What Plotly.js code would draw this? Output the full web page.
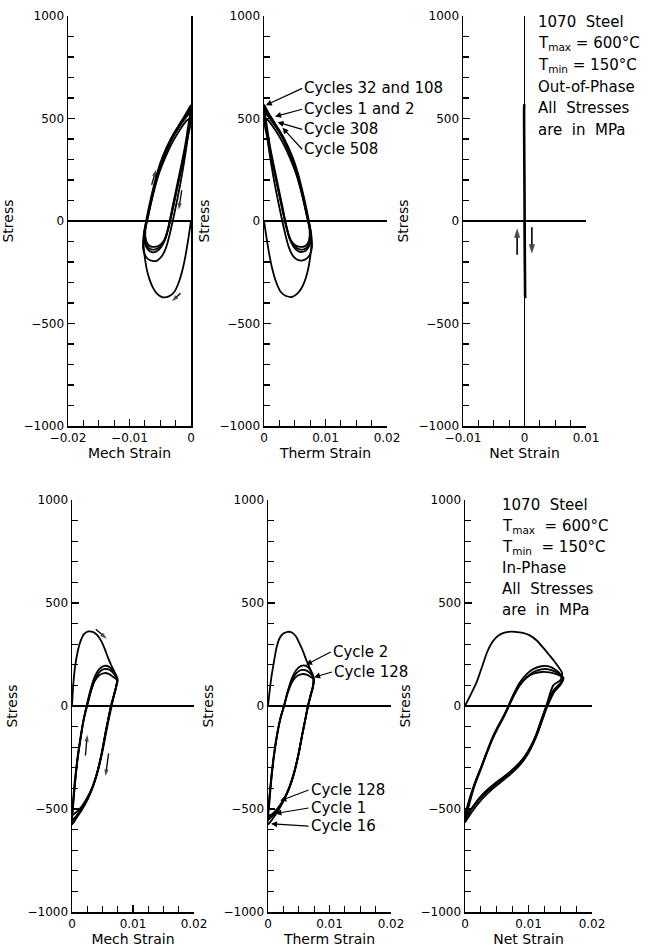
<!DOCTYPE html>
<html><head><meta charset="utf-8">
<script src="https://cdn.plot.ly/plotly-3.0.1.min.js"></script>
<style>html,body{margin:0;padding:0;background:#fff}#chart{width:655px;height:947px}</style>
</head><body><div id="chart"></div>
<script>
// ---------- DATA ----------
// Out-of-phase, mechanical strain vs stress (MPa)
const opMech_c1_x = [0,-0.0004,-0.0009,-0.0014,-0.0020,-0.0027,-0.0036,-0.0046,-0.0055,-0.0062,-0.0068,-0.0072,-0.0075,-0.0077,-0.0076,-0.0072,-0.0068,-0.0062,-0.0055,-0.0045,-0.0032,-0.0019,-0.0006,0];
const opMech_c1_y = [0,-80,-170,-240,-300,-345,-368,-372,-355,-325,-280,-235,-180,-120,-60,0,60,140,225,315,400,462,518,548];
const opMech_c2_x = [0,-0.0004,-0.0009,-0.0015,-0.0022,-0.0029,-0.0035,-0.0040,-0.0047,-0.0055,-0.0063,-0.0070,-0.0075,-0.0078,-0.0077,-0.0073,-0.0069,-0.0063,-0.0056,-0.0046,-0.0033,-0.0020,-0.0007,0];
const opMech_c2_y = [548,440,330,220,110,10,-70,-125,-170,-193,-195,-185,-165,-130,-70,0,60,140,225,315,400,465,522,555];
const opMech_c32_x = [0,-0.0005,-0.0010,-0.0016,-0.0023,-0.0030,-0.0036,-0.0041,-0.0048,-0.0056,-0.0064,-0.0070,-0.0075,-0.0076,-0.0074,-0.0070,-0.0065,-0.0058,-0.0050,-0.0040,-0.0029,-0.0017,-0.0006,0];
const opMech_c32_y = [565,455,360,270,170,70,-20,-80,-125,-148,-152,-140,-110,-60,-20,20,90,180,265,345,420,480,535,565];
const opMech_c308_x = [0,-0.0005,-0.0011,-0.0017,-0.0024,-0.0031,-0.0037,-0.0043,-0.0050,-0.0058,-0.0065,-0.0071,-0.0075,-0.0075,-0.0072,-0.0067,-0.0060,-0.0052,-0.0042,-0.0031,-0.0019,-0.0007,0];
const opMech_c308_y = [530,430,330,240,140,40,-40,-95,-125,-138,-138,-125,-95,-50,0,70,160,245,325,400,460,510,530];
const opMech_c508_x = [0,-0.0005,-0.0011,-0.0018,-0.0025,-0.0032,-0.0038,-0.0044,-0.0051,-0.0059,-0.0066,-0.0071,-0.0074,-0.0074,-0.0071,-0.0066,-0.0059,-0.0051,-0.0041,-0.0030,-0.0018,-0.0007,0];
const opMech_c508_y = [500,410,315,225,125,30,-45,-95,-118,-126,-124,-110,-80,-40,5,75,160,240,315,385,445,490,500];

// Out-of-phase, thermal strain vs stress
const opTherm_c1_x = [0,0.0004,0.0009,0.0014,0.0020,0.0027,0.0036,0.0046,0.0055,0.0062,0.0068,0.0072,0.0075,0.0077,0.0076,0.0072,0.0068,0.0062,0.0055,0.0045,0.0032,0.0019,0.0006,0];
const opTherm_c1_y = [0,-80,-170,-240,-300,-345,-366,-370,-352,-322,-278,-232,-178,-120,-60,0,60,140,225,315,400,462,518,548];
const opTherm_c2_x = [0,0.0004,0.0009,0.0015,0.0022,0.0029,0.0035,0.0040,0.0047,0.0055,0.0063,0.0070,0.0075,0.0078,0.0077,0.0073,0.0069,0.0063,0.0056,0.0046,0.0033,0.0020,0.0007,0];
const opTherm_c2_y = [548,440,330,220,110,10,-70,-125,-170,-190,-192,-182,-162,-128,-70,0,60,140,225,315,400,465,522,555];
const opTherm_c32_x = [0,0.0005,0.0010,0.0016,0.0023,0.0030,0.0036,0.0041,0.0048,0.0056,0.0064,0.0070,0.0075,0.0076,0.0074,0.0070,0.0065,0.0058,0.0050,0.0040,0.0029,0.0017,0.0006,0];
const opTherm_c32_y = [568,455,360,270,170,70,-20,-80,-125,-148,-150,-138,-108,-60,-20,20,90,180,265,345,420,480,535,568];
const opTherm_c308_x = [0,0.0005,0.0011,0.0017,0.0024,0.0031,0.0037,0.0043,0.0050,0.0058,0.0065,0.0071,0.0075,0.0075,0.0072,0.0067,0.0060,0.0052,0.0042,0.0031,0.0019,0.0007,0];
const opTherm_c308_y = [530,430,330,240,140,40,-40,-95,-125,-138,-138,-125,-95,-50,0,70,160,245,325,400,460,510,530];
const opTherm_c508_x = [0,0.0005,0.0011,0.0018,0.0025,0.0032,0.0038,0.0044,0.0051,0.0059,0.0066,0.0071,0.0074,0.0074,0.0071,0.0066,0.0059,0.0051,0.0041,0.0030,0.0018,0.0007,0];
const opTherm_c508_y = [500,410,315,225,125,30,-45,-95,-118,-126,-124,-110,-80,-40,5,75,160,240,315,385,445,490,500];

// Out-of-phase, net strain vs stress (practically zero strain)
const opNet_x = [0,0.00005,0.0001,0.00005,0,-0.00005,-0.00005,0];
const opNet_y = [0,-200,-370,-150,150,400,560,570];

// In-phase, mechanical strain vs stress
const ipMech_c1_x = [0,0.0002,0.0005,0.0009,0.0014,0.0020,0.0027,0.0034,0.0041,0.0048,0.0054,0.0059,0.0064,0.0069,0.0073,0.0075,0.0072,0.0068,0.0064,0.0060,0.0055,0.0049,0.0042,0.0034,0.0025,0.0015,0.0007,0];
const ipMech_c1_y = [0,100,190,260,315,350,362,360,345,315,275,235,200,170,145,125,90,45,0,-55,-130,-225,-315,-390,-450,-500,-535,-555];
const ipMech_c2_x = [0,0.0002,0.0005,0.0009,0.0014,0.0019,0.0024,0.0030,0.0037,0.0045,0.0053,0.0061,0.0068,0.0074,0.0072,0.0068,0.0064,0.0060,0.0055,0.0049,0.0042,0.0034,0.0025,0.0015,0.0007,0];
const ipMech_c2_y = [-555,-470,-370,-260,-160,-70,0,75,140,180,195,190,165,130,90,45,0,-55,-130,-225,-315,-390,-450,-500,-535,-560];
const ipMech_c16_x = [0,0.0002,0.0005,0.0009,0.0014,0.0019,0.0025,0.0031,0.0038,0.0046,0.0054,0.0062,0.0069,0.0074,0.0072,0.0068,0.0065,0.0061,0.0056,0.0050,0.0043,0.0035,0.0026,0.0016,0.0007,0];
const ipMech_c16_y = [-575,-480,-375,-262,-158,-68,0,70,130,168,180,175,155,128,88,42,0,-55,-128,-220,-310,-388,-452,-505,-545,-575];
const ipMech_c128_x = [0,0.0002,0.0005,0.0009,0.0014,0.0019,0.0024,0.0030,0.0037,0.0045,0.0053,0.0061,0.0068,0.0074,0.0072,0.0068,0.0064,0.0060,0.0055,0.0049,0.0042,0.0034,0.0025,0.0015,0.0007,0];
const ipMech_c128_y = [-530,-450,-350,-250,-150,-65,0,65,120,150,160,155,140,125,88,42,0,-55,-130,-225,-315,-390,-445,-490,-515,-530];

// In-phase, thermal strain vs stress
const ipTherm_c1_x = [0,0.0003,0.0006,0.0010,0.0014,0.0019,0.0025,0.0032,0.0038,0.0045,0.0051,0.0057,0.0062,0.0067,0.0071,0.0074,0.0073,0.0069,0.0065,0.0061,0.0056,0.0050,0.0043,0.0035,0.0026,0.0016,0.0007,0];
const ipTherm_c1_y = [0,80,150,220,285,330,352,360,358,340,305,265,225,190,160,135,95,50,0,-60,-135,-230,-320,-395,-455,-505,-535,-555];
const ipTherm_c2_x = [0,0.0002,0.0005,0.0009,0.0014,0.0020,0.0026,0.0032,0.0039,0.0046,0.0054,0.0062,0.0069,0.0074,0.0073,0.0069,0.0065,0.0061,0.0056,0.0050,0.0043,0.0035,0.0026,0.0016,0.0007,0];
const ipTherm_c2_y = [-530,-450,-355,-250,-150,-60,0,70,135,175,195,195,175,140,95,50,0,-60,-135,-230,-320,-395,-455,-505,-525,-530];
const ipTherm_c16_x = [0,0.0002,0.0005,0.0009,0.0014,0.0020,0.0026,0.0032,0.0039,0.0047,0.0055,0.0063,0.0070,0.0074,0.0073,0.0069,0.0065,0.0061,0.0056,0.0050,0.0043,0.0035,0.0026,0.0016,0.0007,0];
const ipTherm_c16_y = [-575,-480,-375,-262,-158,-65,0,68,125,162,175,172,155,135,92,46,0,-60,-132,-225,-315,-392,-455,-510,-550,-575];
const ipTherm_c128_x = [0,0.0002,0.0005,0.0009,0.0014,0.0020,0.0026,0.0032,0.0039,0.0047,0.0055,0.0063,0.0070,0.0075,0.0073,0.0069,0.0065,0.0061,0.0056,0.0050,0.0043,0.0035,0.0026,0.0016,0.0007,0];
const ipTherm_c128_y = [-545,-460,-360,-255,-152,-62,0,62,115,145,155,152,140,130,90,45,0,-60,-133,-228,-318,-392,-450,-495,-525,-545];

// In-phase, net strain vs stress
const ipNet_c1_x = [0,0.0009,0.0018,0.0024,0.0029,0.0034,0.0040,0.0048,0.0057,0.0068,0.0079,0.0091,0.0102,0.0113,0.0123,0.0132,0.0140,0.0147,0.0153,0.0150,0.0139,0.0128,0.0120,0.0112,0.0103,0.0093,0.0082,0.0070,0.0057,0.0044,0.0031,0.0019,0.0009,0];
const ipNet_c1_y = [0,55,113,165,210,255,295,330,350,360,360,355,343,318,283,250,220,190,160,125,100,0,-70,-140,-200,-250,-290,-325,-358,-390,-425,-465,-505,-550];
const ipNet_c2_x = [0,0.0008,0.0016,0.0026,0.0034,0.0042,0.0050,0.0058,0.0066,0.0076,0.0086,0.0097,0.0108,0.0120,0.0132,0.0143,0.0150,0.0154,0.0150,0.0139,0.0128,0.0120,0.0112,0.0103,0.0093,0.0082,0.0070,0.0057,0.0044,0.0031,0.0019,0.0009,0];
const ipNet_c2_y = [-550,-451,-370,-291,-225,-162,-110,-65,-15,55,113,155,180,193,192,175,155,137,110,75,0,-70,-140,-200,-250,-290,-325,-358,-390,-425,-465,-505,-560];
const ipNet_c16_x = [0,0.0008,0.0016,0.0026,0.0034,0.0042,0.0050,0.0058,0.0066,0.0076,0.0086,0.0097,0.0108,0.0120,0.0132,0.0143,0.0150,0.0154,0.0150,0.0140,0.0129,0.0121,0.0113,0.0104,0.0094,0.0083,0.0071,0.0058,0.0045,0.0032,0.0020,0.0010,0];
const ipNet_c16_y = [-560,-462,-380,-300,-233,-170,-118,-72,-22,45,100,140,165,178,178,165,150,137,108,72,0,-72,-143,-205,-257,-298,-333,-366,-398,-435,-476,-518,-565];
const ipNet_c128_x = [0,0.0008,0.0017,0.0027,0.0035,0.0043,0.0051,0.0059,0.0067,0.0077,0.0087,0.0098,0.0109,0.0121,0.0133,0.0144,0.0151,0.0155,0.0151,0.0141,0.0130,0.0122,0.0114,0.0105,0.0095,0.0084,0.0072,0.0059,0.0046,0.0033,0.0021,0.0011,0];
const ipNet_c128_y = [-535,-440,-362,-285,-220,-158,-106,-60,-12,52,105,140,158,165,163,155,145,137,105,70,0,-66,-134,-192,-242,-282,-316,-348,-378,-412,-452,-495,-535];

// Direction arrows: [panel, tail strain, tail stress, head strain, head stress]
const dirArrowsOP = [[1,-0.0064,176,-0.0057,250],[1,-0.0015,150,-0.0020,55],[1,-0.0017,-352,-0.0031,-392],
                     [3,-0.0012,-165,-0.0012,-35],[3,0.0012,-30,0.0012,-160]];
const dirArrowsIP = [[4,0.0039,372,0.0057,327],[4,0.0022,-240,0.0025,-140],[4,0.0060,-230,0.0055,-340]];

// Text
const cycleLabelsOP = ["Cycles 32 and 108","Cycles 1 and 2","Cycle 308","Cycle 508"];
const cycleLabelsIP = ["Cycle 2","Cycle 128","Cycle 128","Cycle 1","Cycle 16"];
const infoOP = ["1070  Steel","T<sub>max</sub> = 600°C","T<sub>min</sub> = 150°C","Out-of-Phase","All  Stresses","are  in  MPa"];
const infoIP = ["1070  Steel","T<sub>max</sub>  = 600°C","T<sub>min</sub>  = 150°C","In-Phase","All  Stresses","are  in  MPa"];
const xTitles = ["Mech Strain","Therm Strain","Net Strain","Mech Strain","Therm Strain","Net Strain"];
const yTitle = "Stress";

// ---------- LAYOUT ----------
const W = 655, H = 947;
const FONT = "DejaVu Sans, sans-serif";
function dx(a,b){return [a/W, b/W];}
function dy(top,bottom){return [1-bottom/H, 1-top/H];}
function sfx(n){return n===1?'':String(n);}

function lineTrace(x,y,n){
  return {x:x,y:y,xaxis:'x'+sfx(n),yaxis:'y'+sfx(n),mode:'lines',
    line:{color:'black',width:1.8,shape:'spline',smoothing:0.7},hoverinfo:'skip'};
}
const traces = [
  lineTrace(opMech_c1_x,opMech_c1_y,1), lineTrace(opMech_c2_x,opMech_c2_y,1),
  lineTrace(opMech_c32_x,opMech_c32_y,1), lineTrace(opMech_c308_x,opMech_c308_y,1),
  lineTrace(opMech_c508_x,opMech_c508_y,1),
  lineTrace(opTherm_c1_x,opTherm_c1_y,2), lineTrace(opTherm_c2_x,opTherm_c2_y,2),
  lineTrace(opTherm_c32_x,opTherm_c32_y,2), lineTrace(opTherm_c308_x,opTherm_c308_y,2),
  lineTrace(opTherm_c508_x,opTherm_c508_y,2),
  lineTrace(opNet_x,opNet_y,3),
  lineTrace(ipMech_c1_x,ipMech_c1_y,4), lineTrace(ipMech_c2_x,ipMech_c2_y,4),
  lineTrace(ipMech_c16_x,ipMech_c16_y,4), lineTrace(ipMech_c128_x,ipMech_c128_y,4),
  lineTrace(ipTherm_c1_x,ipTherm_c1_y,5), lineTrace(ipTherm_c2_x,ipTherm_c2_y,5),
  lineTrace(ipTherm_c16_x,ipTherm_c16_y,5), lineTrace(ipTherm_c128_x,ipTherm_c128_y,5),
  lineTrace(ipNet_c1_x,ipNet_c1_y,6), lineTrace(ipNet_c2_x,ipNet_c2_y,6),
  lineTrace(ipNet_c16_x,ipNet_c16_y,6), lineTrace(ipNet_c128_x,ipNet_c128_y,6)
];
traces[10].line.width = 2.6;

// direction arrows as short lines with an arrow marker at the head
dirArrowsOP.concat(dirArrowsIP).forEach(a=>{
  const big = a[0]===3;
  traces.push({x:[a[1],a[3]],y:[a[2],a[4]],xaxis:'x'+sfx(a[0]),yaxis:'y'+sfx(a[0]),mode:'lines+markers',
    line:{color:'black',width:big?1.6:1.3},
    marker:{symbol:'arrow',angleref:'previous',size:[0,big?10:7],color:'black',line:{width:0}},
    hoverinfo:'skip'});
});

const xCommon = {showline:true,linecolor:'black',linewidth:1.5,ticks:'inside',ticklen:7,tickwidth:1.3,tickcolor:'black',
  showgrid:false,zeroline:true,zerolinecolor:'black',zerolinewidth:1.3,dtick:0.01,tick0:0,
  minor:{dtick:0.0025,ticks:'inside',ticklen:6,tickwidth:1.2,tickcolor:'black',showgrid:false},
  tickfont:{size:12,color:'black',family:FONT},fixedrange:true};
const yCommon = {showline:true,linecolor:'black',linewidth:1.5,ticks:'inside',ticklen:7,tickwidth:1.3,tickcolor:'black',
  showgrid:false,zeroline:true,zerolinecolor:'black',zerolinewidth:1.3,range:[-1000,1000],dtick:500,tick0:0,
  minor:{dtick:100,ticks:'inside',ticklen:6,tickwidth:1.2,tickcolor:'black',showgrid:false},
  tickfont:{size:12,color:'black',family:FONT},fixedrange:true,
  title:{text:yTitle,font:{size:14,color:'black',family:FONT},standoff:6}};

function xa(dom,rng,anchor,i){return Object.assign({},xCommon,{domain:dom,range:rng,anchor:anchor,
  title:{text:xTitles[i],font:{size:14,color:'black',family:FONT},standoff:3}});}
function ya(dom,anchor,extra){return Object.assign({},yCommon,{domain:dom,anchor:anchor},extra||{});}

const topD = dy(16,426), botD = dy(500,912);
const layout = {
  width:W,height:H,margin:{l:0,r:0,t:0,b:0},paper_bgcolor:'white',plot_bgcolor:'rgba(0,0,0,0)',
  showlegend:false,font:{family:FONT,color:'black'},
  xaxis: xa(dx(68,191),[-0.02,0],'y',0),   yaxis: ya(topD,'x',{mirror:true}),
  xaxis2:xa(dx(264,387),[0,0.02],'y2',1),  yaxis2:ya(topD,'x2'),
  xaxis3:xa(dx(463,586),[-0.01,0.01],'y3',2), yaxis3:ya(topD,'x3'),
  xaxis4:xa(dx(72,194),[0,0.02],'y4',3),   yaxis4:ya(botD,'x4'),
  xaxis5:xa(dx(268,391),[0,0.02],'y5',4),  yaxis5:ya(botD,'x5'),
  xaxis6:xa(dx(465,592),[0,0.02],'y6',5),  yaxis6:ya(botD,'x6'),
  annotations:[]
};

// cycle labels
function label(n,txt,tx,ty,px,py){
  const s = sfx(n);
  return {xref:'x'+s,yref:'y'+s,axref:'x'+s,ayref:'y'+s,x:px,y:py,ax:tx,ay:ty,text:txt,xanchor:'left',
    showarrow:true,arrowhead:2,arrowsize:1,arrowwidth:1.2,arrowcolor:'black',standoff:0,
    font:{size:15,color:'black',family:FONT}};
}
layout.annotations.push(
  label(2,cycleLabelsOP[0],0.0062,647,0.0003,565),
  label(2,cycleLabelsOP[1],0.0062,545,0.0018,510),
  label(2,cycleLabelsOP[2],0.0062,447,0.0022,482),
  label(2,cycleLabelsOP[3],0.0062,350,0.0030,455),
  label(5,cycleLabelsIP[0],0.0102,262,0.0062,200),
  label(5,cycleLabelsIP[1],0.0104,165,0.0075,140),
  label(5,cycleLabelsIP[2],0.0066,-408,0.0020,-460),
  label(5,cycleLabelsIP[3],0.0066,-495,0.0012,-522),
  label(5,cycleLabelsIP[4],0.0066,-583,0.0005,-572)
);

// info text blocks
function info(lines,x0px,y0px,step){
  lines.forEach((t,i)=>{
    layout.annotations.push({xref:'paper',yref:'paper',x:x0px/W,y:1-(y0px+i*step)/H,text:t,showarrow:false,
      xanchor:'left',yanchor:'middle',font:{size:15,color:'black',family:FONT}});
  });
}
info(infoOP,536,22,21.5);
info(infoIP,500,505,21);

Plotly.newPlot('chart',traces,layout,{staticPlot:true,displayModeBar:false});
</script>
</body></html>
